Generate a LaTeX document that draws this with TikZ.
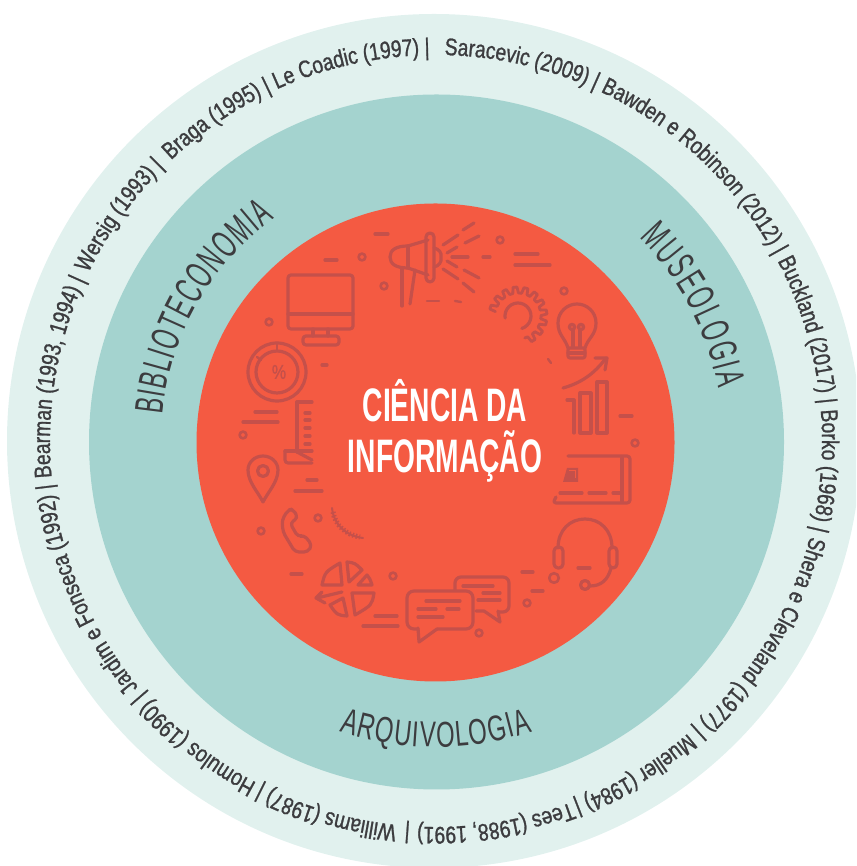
\documentclass[tikz,border=0pt]{standalone}
\usepackage{fontspec}
\usetikzlibrary{decorations.text}
\newfontfamily\reffamily[FakeStretch=0.80, FakeBold=1.1]{Liberation Sans}
\newfontfamily\ringfamily[FakeStretch=0.57]{Liberation Sans}
\newfontfamily\lowfamily[FakeStretch=0.66]{Liberation Sans}
\newfontfamily\titlefamily[FakeStretch=0.6]{Liberation Sans}
\definecolor{outerring}{HTML}{E1F1EE}
\definecolor{middlering}{HTML}{A4D3CF}
\definecolor{corered}{HTML}{F45A42}
\definecolor{iconred}{HTML}{C5504A}
\definecolor{inkgray}{HTML}{3C3C3F}
\newcommand{\reffont}{\reffamily\fontsize{24}{24}\selectfont\color{inkgray}}
\tikzstyle{icon} = [draw=iconred, line width=3.2pt, line cap=round, line join=round]
\tikzstyle{thinicon} = [icon, line width=2.4pt]
\tikzstyle{title} = [text=white, align=center, font=\titlefamily\bfseries\fontsize{47}{50}\selectfont]
\newcommand{\refarc}[2]{
  \path [decorate, decoration={text along path, text format delimiters={<}{>}, text align=center,
    text={<\reffont>#2}}] ([shift={({#1+45}:386)}]textc) arc[start angle={#1+45}, end angle={#1-45}, radius=386];}
\newcommand{\ringarc}[5]{
  \path [decorate, decoration={text along path, text format delimiters={<}{>}, text align=fit to path,
    text={<#4\fontsize{#5}{#5}\selectfont\color{inkgray}>#3}}] ([shift={(#1:\ringrad)}]textc) arc[start angle=#1, end angle=#2, radius=\ringrad];}
\newcommand{\spot}[2]{
  \draw [icon, line width=2.6pt] (#1,#2) circle[radius=3.4];}
\newcommand{\dashmark}[3]{
  \draw [icon] (#1,#3) -- (#2,#3);}

\begin{document}
\begin{tikzpicture}[x=1pt, y=1pt]

	\useasboundingbox (0,0) rectangle (856,866);
	\clip (0,0) rectangle (856,866);
	\coordinate (textc) at (436,425);

	% Draw rings
	\fill [outerring] (434,425) circle[radius=427];
	\fill [middlering] (436.5,424) circle[radius=347.5];
	\fill [corered] (435.5,423.5) circle[radius=239];

	% Draw references
	\refarc{102.65}{Le Coadic (1997) |}
	\refarc{124.25}{Braga (1995) |}
	\refarc{144.5}{Wersig (1993) |}
	\refarc{170.4}{Bearman (1993, 1994) |}
	\refarc{203}{Jardim e Fonseca (1992) |}
	\refarc{231.4}{Homulos (1990) |}
	\refarc{253.6}{Williams (1987) |}
	\refarc{265.8}{|}
	\refarc{278.9}{Tees (1988, 1991)}
	\refarc{300.8}{Mueller (1984) |}
	\refarc{328.7}{Shera e Cleveland (1977) |}
	\refarc{355.6}{Borko (1968) |}
	\refarc{16.65}{Buckland (2017) |}
	\refarc{46.75}{Bawden e Robinson (2012) |}
	\refarc{77.2}{Saracevic (2009) |}

	% Draw ring labels
	\def\ringrad{275}
	\ringarc{174.5}{126}{BIBLIOTECONOMIA}{\ringfamily}{40}
	\def\ringrad{287}
	\ringarc{45}{10.5}{MUSEOLOGIA}{\ringfamily}{40}
	\def\ringrad{306}
	\ringarc{251.6}{288.4}{ARQUIVOLOGIA}{\lowfamily}{36}

	\node (core) [title] at (445,435) {CIÊNCIA DA\\[1pt]INFORMAÇÃO};

	% Draw icons, coordinates from the top left corner
	\begin{scope}[y=-1pt, yshift=866pt]

		% dots and dashes
		\foreach \px/\py in {362/257, 384/286, 269/322, 243/435, 500/240, 564/291, 635/443,
			318/518, 261/531, 393/576, 527/603, 479/633} {
			\spot{\px}{\py}
		}
		\draw [icon, line width=2.6pt] (554,578) circle[radius=4.8];
		\foreach \xa/\xb/\py in {375/388/234, 325/337/260, 322/327/365, 255/277/412, 243/278/422,
			515/538/254, 515/550/265, 620/632/416, 307/317/480, 295/322/491, 291/302/574,
			375/397/616, 363/398/626, 522/533/572, 532/543/591, 578/590/568} {
			\dashmark{\xa}{\xb}{\py}
		}
		\draw [thinicon] (427,301) -- (439,301);
		\draw [thinicon] (455,301) -- (461,302);
		\draw [thinicon] (548,359) -- (551,363);

		% monitor
		\draw [icon, rounded corners=3pt] (288,275) rectangle (353,329);
		\draw [icon] (288,314) -- (353,314);
		\draw [icon] (313,329) -- (313,336);
		\draw [icon] (328,329) -- (328,336);
		\draw [icon, rounded corners=3pt] (303,336) rectangle (339,345);

		% megaphone
		\draw [icon] (408,246) .. controls (396,246) and (390,250) .. (390,257)
			.. controls (390,264) and (396,268) .. (408,268) -- (428,275);
		\draw [icon] (408,246) -- (428,240);
		\draw [icon] (408,246) -- (408,268);
		\draw [icon, rounded corners=4pt] (426,233) rectangle (434,282);
		\draw [icon] (434,248) .. controls (439,249) and (442,253) .. (441,257)
			.. controls (442,262) and (439,266) .. (434,267);
		\draw [icon] (402,268) -- (402,306);
		\draw [icon] (415,270) -- (410,304);
		\foreach \xa/\ya/\xb/\yb in {452/257/468/257, 483/257/490/257, 443/245/458/235, 465/243/479/236,
			463/230/474/223, 447/253/457/247, 447/261/457/267, 443/269/458/279, 464/270/479/278, 463/283/474/292} {
			\draw [icon] (\xa,\ya) -- (\xb,\yb);
		}

		% gear
		\begin{scope}[shift={(518,316)}]
			\foreach \a in {191,213,...,411} {
				\draw [icon, line width=2.8pt] (\a:23) -- ({\a+3}:29) -- ({\a+11}:29) -- ({\a+14}:23) -- ({\a+22}:23);
			}
			\draw [icon] plot[smooth, domain=171:433, samples=20] (\x:13);
		\end{scope}

		% bulb
		\draw [icon] (568,348) .. controls (565,338) and (558,335) .. (558,323)
			.. controls (558,312) and (567,304) .. (577,304)
			.. controls (587,304) and (596,312) .. (596,323)
			.. controls (596,335) and (588,338) .. (585,348);
		\draw [icon, rounded corners=2pt] (568,348) rectangle (585,358);
		\draw [icon] (568,353) -- (585,353);
		\draw [icon] (572,327) circle[radius=2.6];
		\draw [icon] (581,327) circle[radius=2.6];
		\draw [icon] (573,330) -- (573,347);
		\draw [icon] (580,330) -- (580,347);

		% growth
		\draw [icon] (563,388) .. controls (585,382) and (597,370) .. (606,358);
		\draw [icon] (595,358) -- (607,358) -- (605,370);
		\draw [icon] (597,382) rectangle (607,433);
		\draw [icon] (580,393) rectangle (591,433);
		\draw [icon] (567,400) -- (574,400) -- (574,433);

		% card
		\draw [icon, rounded corners=3pt] (568,456) -- (630,456) -- (630,503) -- (553,503) -- (556,497);
		\draw [icon] (622,458) -- (622,501);
		\foreach \xa/\xb in {560/582, 589/606, 613/620} {
			\dashmark{\xa}{\xb}{493}
		}
		\fill [iconred] (563,482) -- (567,468) -- (578,468) -- (578,482) -- cycle;
		\draw [corered, line width=1pt] (569,471) -- (575,471) -- (575,478);

		% headset
		\draw [icon] (558,548) .. controls (558,530) and (570,519) .. (585,519)
			.. controls (600,519) and (612,530) .. (612,548);
		\draw [icon, rounded corners=4pt] (554,547) rectangle (563,568);
		\draw [icon, rounded corners=4pt] (609,547) rectangle (617,568);
		\draw [icon] (611,568) .. controls (608,580) and (601,586) .. (590,586);
		\draw [icon] (585,585) circle[radius=4.5];

		% chat
		\draw [icon, rounded corners=6pt] (455,590) -- (455,577) -- (509,577) -- (509,612) -- (499,612);
		\draw [icon] (498,611) -- (500,622) -- (484,611) -- (476,611);
		\foreach \xa/\xb/\py in {463/493/586, 483/500/593, 478/500/600, 426/460/601, 418/436/609, 447/459/609, 418/443/617} {
			\dashmark{\xa}{\xb}{\py}
		}
		\draw [icon, rounded corners=7pt] (418,629) -- (407,629) -- (407,591) -- (473,591) -- (473,629) -- (437,629);
		\draw [icon] (418,628) -- (419,642) -- (437,629);

		% pie
		\draw [icon] (322,585) .. controls (325,572) .. (340,563) -- (342,585) -- cycle;
		\draw [icon] (347,562) .. controls (355,563) .. (362,570) -- (349,582) -- cycle;
		\draw [icon] (367,575) .. controls (370,579) .. (372,585) -- (358,585) -- cycle;
		\draw [icon] (374,593) .. controls (372,605) .. (355,615) -- (352,593) -- cycle;
		\draw [icon] (347,616) .. controls (337,615) .. (330,605) -- (343,598) -- cycle;
		\draw [icon] (342,592) -- (317,598);
		\draw [icon] (322,592) -- (316,598) -- (325,603);

		% phone
		\draw [icon, rounded corners=4pt] (288,510) -- (282,520) -- (283,532) -- (295,552) -- (308,552) -- (312,545)
			-- (304,535) -- (298,537) -- (290,523) -- (298,518) -- (293,509) -- cycle;
		\draw [icon, line width=2pt] (332,508) .. controls (334,525) and (346,536) .. (363,538);
		\draw [icon, dash pattern=on 1.5pt off 2pt, line cap=butt, line width=5pt] (333,512) .. controls (335,525) and (346,535) .. (360,537);

		% pin
		\draw [icon] (263,502) .. controls (258,492) and (248,482) .. (248,470)
			.. controls (248,462) and (255,456) .. (263,456)
			.. controls (271,456) and (278,462) .. (278,470)
			.. controls (278,482) and (268,492) .. (263,502);
		\draw [icon] (263,471) circle[radius=5.5];

		% ruler
		\draw [icon] (312,402) -- (297,402) -- (297,452);
		\foreach \py in {413, 420, 428, 436, 444} {
			\dashmark{305}{310}{\py}
		}
		\draw [icon] (285,451) -- (312,451);
		\draw [icon, rounded corners=3pt] (285,451) -- (285,463) -- (312,463);
		\draw [icon] (297,452) -- (312,460);

		% percent
		\draw [icon] (277,372) circle[radius=29];
		\draw [icon] (277,372) circle[radius=21];
		\draw [thinicon] (277,343) -- (277,351);
		\draw [thinicon] (257,357) -- (261,360);
		\node (percent) [text=iconred, font=\reffamily\fontsize{20}{20}\selectfont] at (279,372) {\%};

	\end{scope}

\end{tikzpicture}
\end{document}
